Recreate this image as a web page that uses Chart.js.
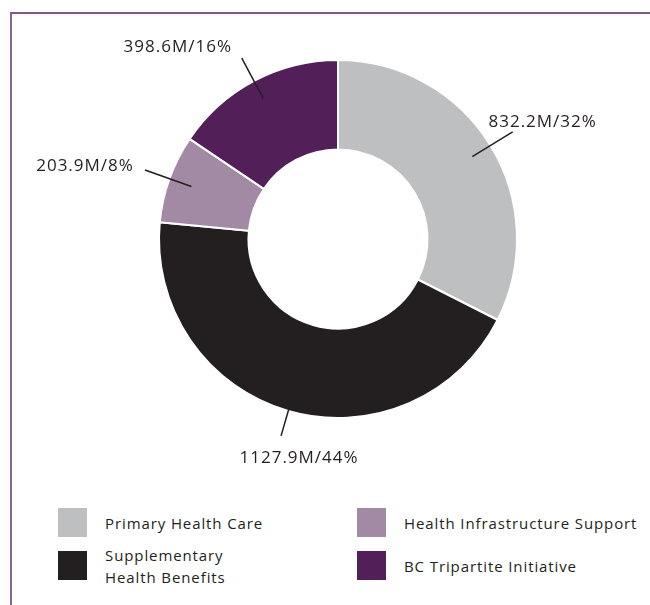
<!DOCTYPE html>
<html>
<head>
<meta charset="utf-8">
<script src="https://cdn.jsdelivr.net/npm/chart.js@4/dist/chart.umd.min.js"></script>
<style>
    body { margin: 0; background: #fff; font-family: 'Open Sans', sans-serif; color: #231f20; }
    #page { position: relative; width: 650px; height: 605px; overflow: hidden; }
    #frame { position: absolute; left: 10px; top: 12px; right: 0; bottom: 0;
        border-top: 2px solid #7a5a86; border-left: 2px solid #85678f; }
    #chartBox { position: absolute; left: 0; top: 0; width: 650px; height: 490px; }
    #legend { position: absolute; left: 58px; top: 508px; width: 592px;
        display: grid; grid-template-columns: 299px 290px; row-gap: 14px; }
    .item { display: flex; align-items: center; height: 29px; }
    .swatch { width: 29px; height: 29px; flex: none; margin-right: 18px; }
    .txt { font-size: 15px; line-height: 22px; letter-spacing: 0.9px; }
</style>
</head>
<body>
<div id="page">
    <div id="frame"></div>
    <div id="chartBox"><canvas id="donut"></canvas></div>
    <div id="legend"></div>
</div>
<script>
// values in millions
const categories = ['Primary Health Care', 'Supplementary Health Benefits', 'Health Infrastructure Support', 'BC Tripartite Initiative'];
const legendNames = [['Primary Health Care'], ['Supplementary', 'Health Benefits'], ['Health Infrastructure Support'], ['BC Tripartite Initiative']];
const amounts = [832.2, 1127.9, 203.9, 398.6];
const percents = [32, 44, 8, 16];
const colors = ['#bebfc1', '#231f20', '#a38aa4', '#521f59'];

// leader lines + value labels
const calloutPlugin = {
    id: 'callouts',
    afterDatasetsDraw(chart, args, opts) {
        const ctx = chart.ctx;
        const arcs = chart.getDatasetMeta(0).data;
        ctx.save();
        ctx.font = '17px "Open Sans"';
        ctx.letterSpacing = '1px';
        ctx.fillStyle = '#231f20';
        ctx.strokeStyle = '#231f20';
        ctx.lineWidth = 1.5;
        ctx.textAlign = 'center';
        ctx.textBaseline = 'middle';
        arcs.forEach((arc, i) => {
            const p = arc.getProps(['x', 'y', 'startAngle', 'endAngle', 'outerRadius'], true);
            const mid = (p.startAngle + p.endAngle) / 2;
            const r1 = p.outerRadius * opts.lineStart[i];
            const r2 = p.outerRadius * 1.145;
            const x2 = p.x + Math.cos(mid) * r2, y2 = p.y + Math.sin(mid) * r2;
            ctx.beginPath();
            ctx.moveTo(p.x + Math.cos(mid) * r1, p.y + Math.sin(mid) * r1);
            ctx.lineTo(x2, y2);
            ctx.stroke();
            const off = opts.labelOffset[i];
            ctx.fillText(amounts[i] + 'M/' + percents[i] + '%', x2 + off[0], y2 + off[1]);
        });
        ctx.restore();
    }
};

new Chart(document.getElementById('donut'), {
    type: 'doughnut',
    data: {
        labels: categories,
        datasets: [{
            data: amounts,
            backgroundColor: colors,
            borderColor: '#ffffff',
            borderWidth: 2
        }]
    },
    options: {
        responsive: true,
        maintainAspectRatio: false,
        animation: false,
        cutout: '50%',
        layout: { padding: { left: 158, right: 132, top: 59, bottom: 71 } },
        plugins: {
            legend: { display: false },
            tooltip: { enabled: false },
            callouts: {
                lineStart: [0.88, 0.99, 0.87, 0.89],
                labelOffset: [[30, -10], [18, 22], [-60, -4], [-64, -11]]
            }
        }
    },
    plugins: [calloutPlugin]
});

const legend = document.getElementById('legend');
// grid fills row by row: left column = items 0,1, right column = items 2,3
[0, 2, 1, 3].forEach(i => {
    const item = document.createElement('div');
    item.className = 'item';
    item.innerHTML = '<div class="swatch" style="background:' + colors[i] + '"></div>' +
        '<div class="txt">' + legendNames[i].join('<br>') + '</div>';
    legend.appendChild(item);
});
</script>
</body>
</html>
